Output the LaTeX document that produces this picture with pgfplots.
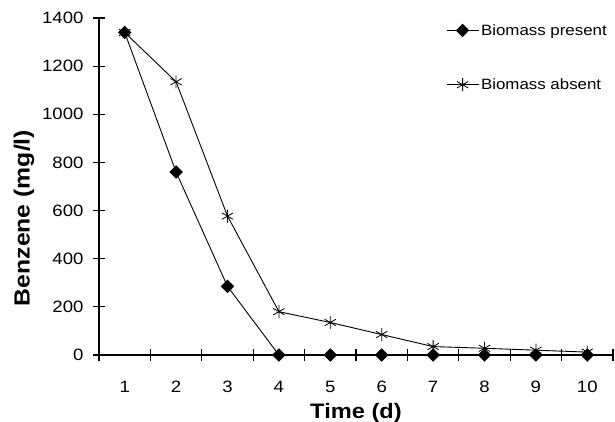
\documentclass[border=0pt]{standalone}
\usepackage{pgfplots}
\pgfplotsset{compat=1.18}
\usepackage{fontspec}
\setmainfont{Liberation Sans}[FakeStretch=1.13]
\newcommand\tickfont{\fontsize{16.5}{19}\selectfont}
\begin{document}
\begin{tikzpicture}
\useasboundingbox (-99bp,-67bp) rectangle (516bp,355bp);
\begin{axis}[
    at={(0,0)}, anchor=south west,
    scale only axis,
    width=514bp, height=337bp,
    xmin=0.5, xmax=10.5,
    ymin=0, ymax=1400,
    clip=false,
    axis x line=bottom, axis y line=left,
    axis line style={-, line width=1.6bp},
    tick align=center,
    major tick length=12bp,
    tick style={line width=1.2bp, black},
    xtick={0.5,1.5,...,10.5},
    xticklabels={1,2,3,4,5,6,7,8,9,10},
    x tick label as interval,
    ytick={0,200,...,1400},
    yticklabel={\pgfmathtruncatemacro\ytl{\tick}\ytl},
    every tick label/.append style={font=\tickfont},
    xticklabel style={font=\tickfont, anchor=base, yshift=-31bp},
    yticklabel style={font=\tickfont, anchor=east, xshift=-6bp},
    xlabel={Time (d)},
    ylabel={Benzene (mg/l)},
    xlabel style={font=\bfseries\fontsize{21}{24}\selectfont,
        at={(axis description cs:0.5,0)}, anchor=base, yshift=-63bp},
    ylabel style={font=\bfseries\fontsize{22}{25}\selectfont,
        at={(axis description cs:-0.146,0.4065)}, anchor=center},
    legend style={draw=none, fill=none, inner sep=0pt,
        at={(axis description cs:0.675,0.988)}, anchor=north west,
        font=\fontsize{15}{18}\selectfont,
        row sep=38bp, nodes={inner sep=2bp}},
    legend cell align=left,
    legend image code/.code={
        \draw[mark repeat=2, mark phase=2]
            plot coordinates {(0bp,0bp) (16bp,0bp) (32bp,0bp)};
    },
]
% biomass present
\addplot[black, line width=0.9bp, mark=square*, mark size=4.3bp,
    mark options={solid, fill=black, rotate=45}]
    coordinates {(1,1340) (2,760) (3,285) (4,0) (5,0) (6,0) (7,0) (8,0) (9,0) (10,0)};
\addlegendentry{Biomass present}

% biomass absent
\addplot[black, line width=0.9bp, mark=asterisk, mark size=6.5bp,
    mark options={solid, line width=0.8bp}]
    coordinates {(1,1340) (2,1135) (3,577) (4,180) (5,135) (6,85) (7,35) (8,28) (9,20) (10,12)};
\addlegendentry{Biomass absent}
\end{axis}
\end{tikzpicture}
\end{document}
